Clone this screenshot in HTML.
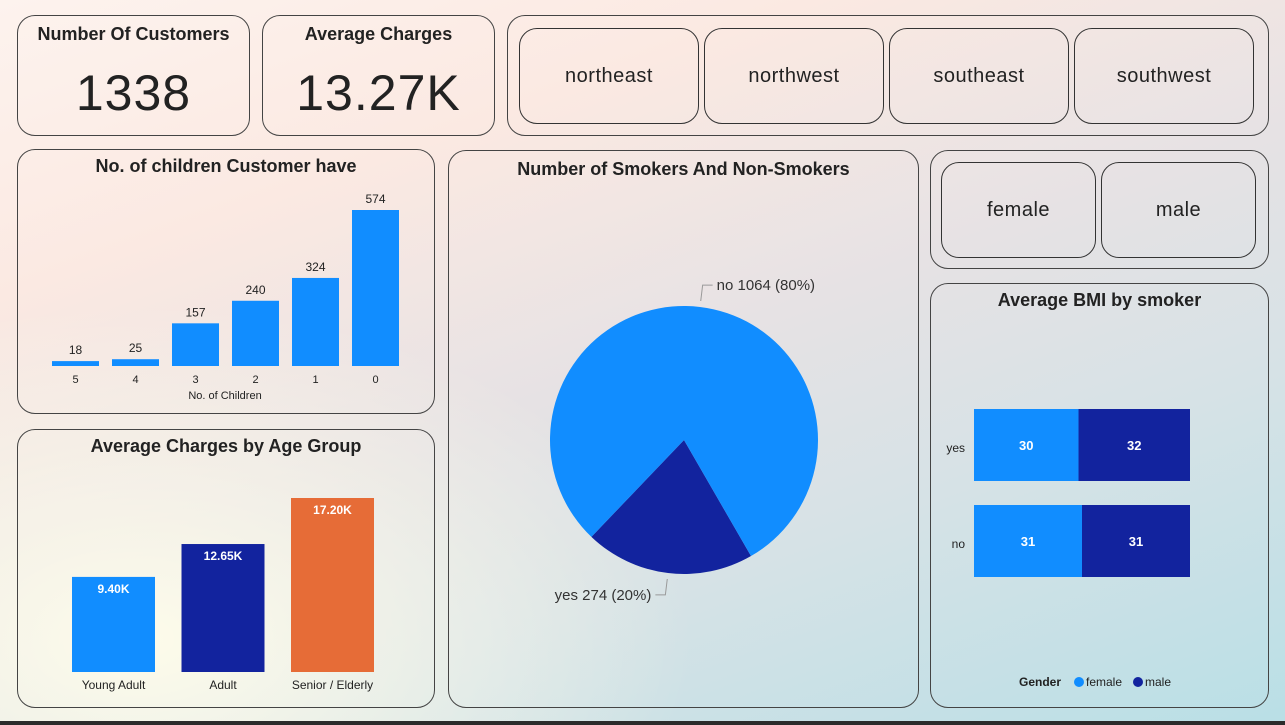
<!DOCTYPE html>
<html><head><meta charset="utf-8"><style>
html,body{margin:0;padding:0}
body{width:1285px;height:725px;position:relative;overflow:hidden;font-family:"Liberation Sans",sans-serif;color:#222;
background:linear-gradient(160deg,#fdf3ee 0%,#fbe9e2 25%,#e6e2e4 50%,#d6e2e6 70%,#b9dfe6 100%);}
.bgl{position:absolute;left:0;top:300px;width:700px;height:425px;background:radial-gradient(ellipse at 20% 80%,rgba(255,253,235,0.95),rgba(255,253,235,0) 70%)}
.card{position:absolute;border:1px solid #444;border-radius:18px;box-sizing:border-box}
.btn{position:absolute;border:1px solid #333;border-radius:18px;box-sizing:border-box;display:flex;align-items:center;justify-content:center;font-size:20px;letter-spacing:0.5px;color:#222}
.title{position:absolute;left:0;right:0;text-align:center;font-weight:bold;font-size:18px}
.big{position:absolute;left:0;right:0;text-align:center;font-size:50px;letter-spacing:1px}
svg text{font-family:"Liberation Sans",sans-serif}
</style></head><body>
<div class="bgl"></div>
<div class="card" style="left:17px;top:15px;width:233px;height:121px">
 <div class="title" style="top:8px">Number Of Customers</div>
 <div class="big" style="top:48px">1338</div></div>
<div class="card" style="left:262px;top:15px;width:233px;height:121px">
 <div class="title" style="top:8px">Average Charges</div>
 <div class="big" style="top:48px">13.27K</div></div>
<div class="card" style="left:507px;top:15px;width:762px;height:121px"></div>
<div class="btn" style="left:519px;top:28px;width:180px;height:96px">northeast</div>
<div class="btn" style="left:704px;top:28px;width:180px;height:96px">northwest</div>
<div class="btn" style="left:889px;top:28px;width:180px;height:96px">southeast</div>
<div class="btn" style="left:1074px;top:28px;width:180px;height:96px">southwest</div>

<div class="card" style="left:930px;top:150px;width:339px;height:119px"></div>
<div class="btn" style="left:941px;top:162px;width:155px;height:96px">female</div>
<div class="btn" style="left:1101px;top:162px;width:155px;height:96px">male</div>

<div class="card" style="left:17px;top:149px;width:418px;height:265px">
 <div class="title" style="top:6px">No. of children Customer have</div></div>
<div class="card" style="left:17px;top:429px;width:418px;height:279px">
 <div class="title" style="top:6px">Average Charges by Age Group</div></div>
<div class="card" style="left:448px;top:150px;width:471px;height:558px">
 <div class="title" style="top:8px">Number of Smokers And Non-Smokers</div></div>
<div class="card" style="left:930px;top:283px;width:339px;height:425px">
 <div class="title" style="top:6px">Average BMI by smoker</div></div>
<div style="position:absolute;left:0;top:721px;width:1285px;height:4px;background:#2b2b2b"></div>

<svg id="chart" width="1285" height="725" style="position:absolute;left:0;top:0"></svg>
<script>
const childCats=["5","4","3","2","1","0"];
const childVals=[18,25,157,240,324,574];
const ageCats=["Young Adult","Adult","Senior / Elderly"];
const ageVals=[9.40,12.65,17.20];
const ageLabels=["9.40K","12.65K","17.20K"];
const smokeCats=["yes","no"];
const smokeVals=[274,1064];
const bmiCats=["yes","no"];
const bmiFemale=[30,31];
const bmiMale=[32,31];
const NS="http://www.w3.org/2000/svg";
const svg=document.getElementById("chart");
function mk(t,a,txt){const e=document.createElementNS(NS,t);for(const k in a)e.setAttribute(k,a[k]);if(txt!=null)e.textContent=txt;svg.appendChild(e);return e;}
// children chart
const cy=y=>366-y*(156/574);
childVals.forEach((v,i)=>{const x=52+i*60;
 const r=mk("rect",{x:x,y:cy(v),width:47,height:366-cy(v),fill:"#118dff"});
 
 
 const t=mk("text",{x:x+23.5,y:cy(v)-7,"font-size":12,"text-anchor":"middle",fill:"#222"},v);
 
 
 const l=mk("text",{x:x+23.5,y:383,"font-size":11,"text-anchor":"middle",fill:"#222"},childCats[i]);
 
 });
const cxt=mk("text",{x:225,y:399,"font-size":11,"text-anchor":"middle",fill:"#222"},"No. of Children");


// age chart
const ay=v=>672-v*(174/17.2);const ageCol=["#118dff","#12239e","#e66c37"];
ageVals.forEach((v,i)=>{const x=72+i*109.5;
 const r=mk("rect",{x:x,y:ay(v),width:83,height:672-ay(v),fill:ageCol[i]});
 
 
 const t=mk("text",{x:x+41.5,y:ay(v)+16,"font-size":12,"font-weight":"bold","text-anchor":"middle",fill:"#fff"},ageLabels[i]);
 
 
 const l=mk("text",{x:x+41.5,y:689,"font-size":12,"text-anchor":"middle",fill:"#222"},ageCats[i]);
 
 });
// pie
const pcx=684,pcy=440,pr=134;const tot=smokeVals.reduce((a,b)=>a+b,0);
let ang=150;const pcol=["#12239e","#118dff"];
function pt(a,r){const rad=(a-90)*Math.PI/180;return[pcx+r*Math.cos(rad),pcy+r*Math.sin(rad)];}
smokeVals.forEach((v,i)=>{const sweep=v/tot*360;const a0=ang,a1=ang+sweep;
 const p0=pt(a0,pr),p1=pt(a1,pr);
 const s=mk("path",{d:`M${pcx},${pcy}L${p0[0]},${p0[1]}A${pr},${pr} 0 ${sweep>180?1:0} 1 ${p1[0]},${p1[1]}Z`,fill:pcol[i]});
 
 
 const mid=(a0+a1)/2;const q=pt(mid,pr+6),q2=pt(mid,pr+22);
 const right=Math.sin((mid)*Math.PI/180)>0;const ex=q2[0]+(right?10:-10);
 const ln=mk("polyline",{points:`${q[0]},${q[1]} ${q2[0]},${q2[1]} ${ex},${q2[1]}`,fill:"none",stroke:"#999","stroke-width":1});
 
 
 const pct=Math.round(v/tot*100);
 const t=mk("text",{x:ex+(right?4:-4),y:q2[1]+5,"font-size":15,"text-anchor":right?"start":"end",fill:"#333"},`${smokeCats[i]} ${v} (${pct}%)`);
 
 
 ang=a1;});
// bmi
const bx=v=>v*(108/31);
bmiCats.forEach((c,i)=>{const y=409+i*96;const f=bx(bmiFemale[i]),m=bx(bmiMale[i]);
 const r1=mk("rect",{x:974,y:y,width:f,height:72,fill:"#118dff"});
 
 
 const r2=mk("rect",{x:974+f,y:y,width:m,height:72,fill:"#12239e"});
 
 
 const t1=mk("text",{x:974+f/2,y:y+41,"font-size":13,"font-weight":"bold","text-anchor":"middle",fill:"#fff"},bmiFemale[i]);
 
 
 const t2=mk("text",{x:974+f+m/2,y:y+41,"font-size":13,"font-weight":"bold","text-anchor":"middle",fill:"#fff"},bmiMale[i]);
 
 
 const l=mk("text",{x:965,y:y+43,"font-size":12,"text-anchor":"end",fill:"#222"},c);
 
 });
const lg=mk("text",{x:1019,y:686,"font-size":12,"font-weight":"bold",fill:"#222"},"Gender");


[["female",1079,"#118dff"],["male",1138,"#12239e"]].forEach(d=>{
 const c=mk("circle",{cx:d[1],cy:682,r:5,fill:d[2]});
 
 
 const t=mk("text",{x:d[1]+7,y:686,"font-size":12,fill:"#222"},d[0]);
 
 });
</script>
</body></html>
